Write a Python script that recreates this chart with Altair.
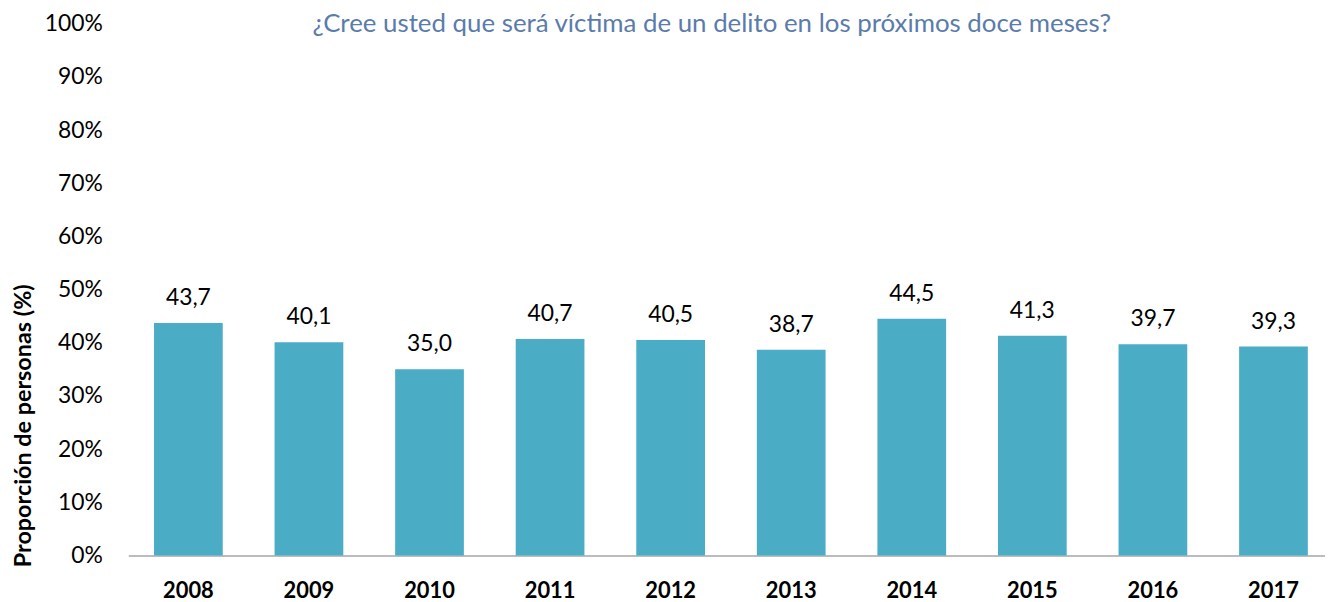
import altair as alt
import pandas as pd

years = ["2008", "2009", "2010", "2011", "2012", "2013", "2014", "2015", "2016", "2017"]
values = [43.7, 40.1, 35.0, 40.7, 40.5, 38.7, 44.5, 41.3, 39.7, 39.3]
y_ticks = [0, 10, 20, 30, 40, 50, 60, 70, 80, 90, 100]
title_text = "¿Cree usted que será víctima de un delito en los próximos doce meses?"
y_title = "Proporción de personas (%)"

df = pd.DataFrame({"year": years, "value": values})

FONT = "Lato"

base = alt.Chart(df).encode(
    x=alt.X(
        "year:N",
        sort=years,
        scale=alt.Scale(paddingInner=0.43, paddingOuter=0.178, align=0.6),
        axis=alt.Axis(
            title=None,
            labelAngle=0,
            labelFont=FONT,
            labelFontSize=22,
            labelFontWeight="bold",
            labelColor="#000000",
            labelPadding=25,
            ticks=False,
            domain=True,
            domainColor="#A6A6A6",
            domainWidth=1.5,
        ),
    ),
    y=alt.Y(
        "value:Q",
        scale=alt.Scale(domain=[0, 100], nice=False),
        axis=alt.Axis(
            values=y_ticks,
            labelExpr="datum.value + '%'",
            labelFont=FONT,
            labelFontSize=23,
            labelColor="#000000",
            labelPadding=26,
            ticks=False,
            domain=False,
            grid=False,
            title=y_title,
            titleFont=FONT,
            titleFontSize=23.5,
            titleFontWeight="bold",
            titleColor="#000000",
            titleAngle=270,
            titleAlign="center",
            titleBaseline="middle",
            titleX=-105,
            titleY=404,
        ),
    ),
)

bars = base.mark_bar(color="#4BACC6")

labels = base.transform_calculate(
    lab="replace(format(datum.value, '.1f'), '.', ',')"
).mark_text(
    font=FONT, fontSize=23, color="#000000", baseline="alphabetic", dy=-18
).encode(text="lab:N")

chart = (
    alt.layer(bars, labels)
    .properties(
        width=1204,
        height=535,
        title=alt.TitleParams(
            text=title_text,
            font=FONT,
            fontSize=26,
            fontWeight="normal",
            color="#5A7CAB",
            anchor="middle",
            frame="group",
            baseline="alphabetic",
            dx=-15,
            dy=45,
            offset=0,
        ),
        autosize=alt.AutoSizeParams(type="none"),
        padding={"left": 121, "top": 14, "right": 0, "bottom": 45},
    )
    .configure_view(stroke=None)
)

chart.save("out.html", embed_options={"renderer": "svg", "actions": False})
